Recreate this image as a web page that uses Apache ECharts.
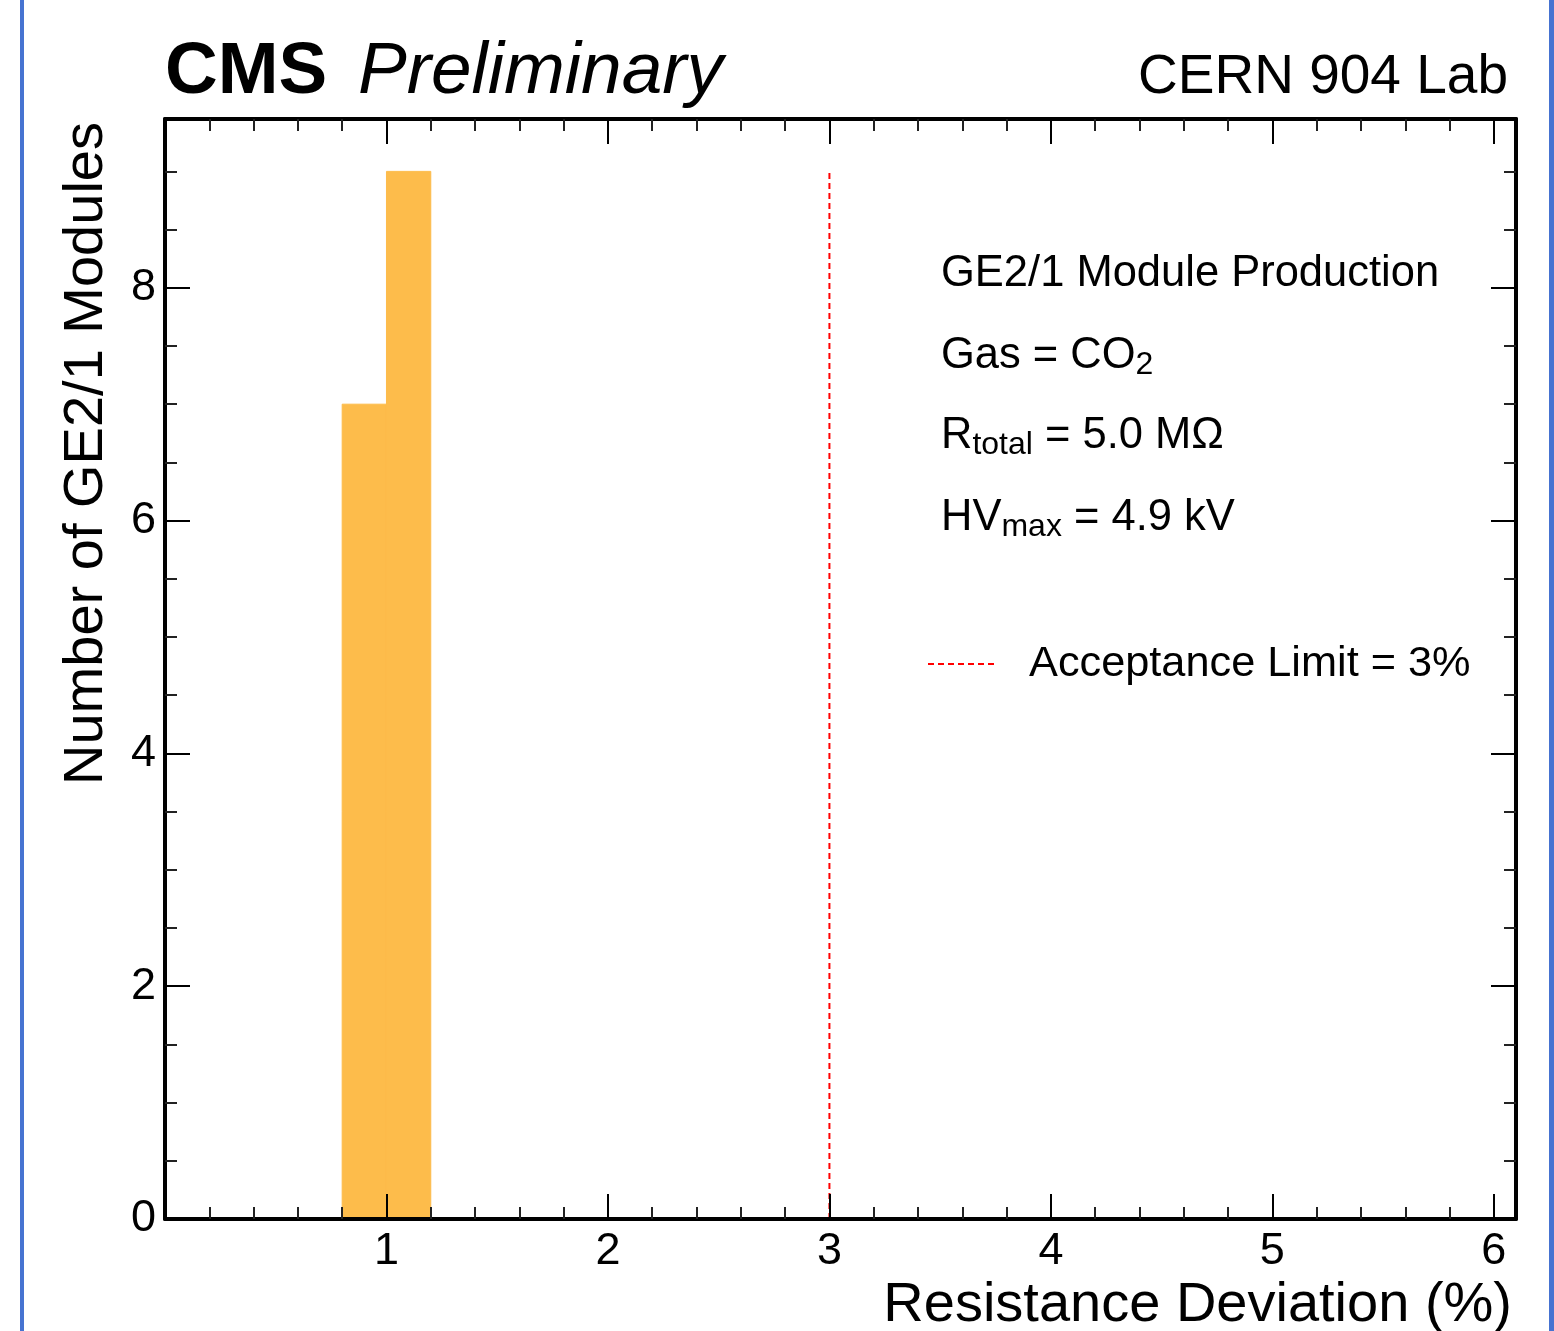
<!DOCTYPE html>
<html><head><meta charset="utf-8">
<script src="https://cdn.jsdelivr.net/npm/echarts@6/dist/echarts.min.js"></script>
<style>html,body{margin:0;padding:0;background:#fff}#c{width:1554px;height:1331px}</style>
</head><body><div id="c"></div>
<script>
// ---- data ----
const binLow = [0.8, 1.0];
const binHigh = [1.0, 1.2];
const counts = [7, 9];
const limitX = [3, 3];
const limitY = [0, 9];
const xMin = 0, xMax = 6.1, xStep = 1;
const yMin = 0, yMax = 9.45, yStep = 2;
const xTickLabels = ['1', '2', '3', '4', '5', '6'];
const yTickLabels = ['0', '2', '4', '6', '8'];
const seriesName = 'Acceptance Limit = 3%';
const xTitle = 'Resistance Deviation (%)';
const yTitle = 'Number of GE2/1 Modules';

const FONT = "'Liberation Sans', Arial, Helvetica, sans-serif";
const histData = binLow.map((lo, i) => [lo, binHigh[i], counts[i]]);
const limitData = limitX.map((x, i) => [x, limitY[i]]);

const tickCommon = (len) => ({show: true, inside: true, length: len, lineStyle: {color: '#000', width: 2}});
const minorCommon = (n) => ({show: true, splitNumber: n, length: 12, lineStyle: {color: '#222', width: 2}});
const lineCommon = {show: true, onZero: false, lineStyle: {color: '#000', width: 4}};
const fmtFrom = (list) => (v) => {
  const s = String(Math.round(v));
  return (Math.abs(v - Math.round(v)) < 1e-9 && list.indexOf(s) >= 0) ? s : '';
};

const chart = echarts.init(document.getElementById('c'), null, {renderer: 'canvas'});
chart.setOption({
  animation: false,
  backgroundColor: '#fff',
  grid: {left: 165, top: 119, right: 38, bottom: 112, containLabel: false, outerBoundsMode: 'none'},
  xAxis: [
    {type: 'value', position: 'bottom', min: xMin, max: xMax, interval: xStep, z: 10,
     axisLine: lineCommon, axisTick: tickCommon(25), minorTick: minorCommon(5),
     splitLine: {show: false}, minorSplitLine: {show: false},
     axisLabel: {show: true, margin: 10, fontSize: 45, color: '#000', fontFamily: FONT, formatter: fmtFrom(xTickLabels)}},
    {type: 'value', position: 'top', min: xMin, max: xMax, interval: xStep, z: 10,
     axisLine: lineCommon, axisTick: tickCommon(25), minorTick: minorCommon(5),
     splitLine: {show: false}, axisLabel: {show: false}}
  ],
  yAxis: [
    {type: 'value', position: 'left', min: yMin, max: yMax, interval: yStep, z: 10,
     axisLine: lineCommon, axisTick: tickCommon(25), minorTick: minorCommon(4),
     splitLine: {show: false}, minorSplitLine: {show: false},
     axisLabel: {show: true, margin: 9, fontSize: 45, color: '#000', fontFamily: FONT, formatter: fmtFrom(yTickLabels)}},
    {type: 'value', position: 'right', min: yMin, max: yMax, interval: yStep, z: 10,
     axisLine: lineCommon, axisTick: tickCommon(25), minorTick: minorCommon(4),
     splitLine: {show: false}, axisLabel: {show: false}}
  ],
  legend: {
    show: true, left: 927, top: 639, padding: 0, orient: 'vertical',
    itemWidth: 66, itemHeight: 14, selectedMode: false,
    itemStyle: {opacity: 0},
    data: [seriesName],
    textStyle: {fontSize: 43.3, lineHeight: 50, color: '#000', fontFamily: FONT, padding: [0, 0, 0, 30]}
  },
  series: [
    {
      type: 'custom', name: 'hist', xAxisIndex: 0, yAxisIndex: 0, z: 2,
      data: histData,
      encode: {x: [0, 1], y: 2},
      renderItem: function (params, api) {
        const p0 = api.coord([api.value(0), api.value(2)]);
        const p1 = api.coord([api.value(1), 0]);
        return {type: 'rect', shape: {x: p0[0], y: p0[1], width: p1[0] - p0[0], height: p1[1] - p0[1]},
                style: {fill: '#FDBC4B', stroke: '#FDBC4B', lineWidth: 1}};
      }
    },
    {
      type: 'line', name: seriesName, xAxisIndex: 0, yAxisIndex: 0, z: 3,
      data: limitData, symbol: 'none', showSymbol: false,
      lineStyle: {color: '#FF0000', width: 2, type: [6, 4]},
      itemStyle: {color: '#FF0000'}
    }
  ],
  graphic: [
    {type: 'rect', shape: {x: 20, y: 0, width: 4, height: 1331}, style: {fill: '#4673D1'}},
    {type: 'rect', shape: {x: 1549, y: 0, width: 5, height: 1331}, style: {fill: '#4673D1'}},
    {type: 'text', x: 165, y: 36, style: {text: 'CMS', fontSize: 73, fontWeight: 'bold', fontFamily: FONT, fill: '#000', verticalAlign: 'top', lineHeight: 73}},
    {type: 'text', x: 358, y: 36, style: {text: 'Preliminary', fontSize: 73, fontStyle: 'italic', fontFamily: FONT, fill: '#000', verticalAlign: 'top', lineHeight: 73}},
    {type: 'text', x: 1508, y: 50, style: {text: 'CERN 904 Lab', fontSize: 55, fontFamily: FONT, fill: '#000', align: 'right', verticalAlign: 'top', lineHeight: 55}},
    {type: 'text', x: 1512, y: 1278, style: {text: xTitle, fontSize: 56, fontFamily: FONT, fill: '#000', align: 'right', verticalAlign: 'top', lineHeight: 56}},
    {type: 'text', x: 87, y: 122, rotation: Math.PI / 2, style: {text: yTitle, fontSize: 56, fontFamily: FONT, fill: '#000', align: 'right', verticalAlign: 'middle', lineHeight: 56}},
    {type: 'text', x: 941, y: 249, style: {text: 'GE2/1 Module Production', fontSize: 43.5, fontFamily: FONT, fill: '#000', verticalAlign: 'top', lineHeight: 50}},
    {type: 'text', x: 941, y: 331, style: {text: 'Gas = CO{s|2}', fontSize: 43.5, fontFamily: FONT, fill: '#000', verticalAlign: 'top', lineHeight: 50,
      rich: {s: {fontSize: 32, lineHeight: 28, verticalAlign: 'bottom', fontFamily: FONT, fill: '#000'}}}},
    {type: 'text', x: 941, y: 411, style: {text: 'R{s|total} = 5.0 MΩ', fontSize: 43.5, fontFamily: FONT, fill: '#000', verticalAlign: 'top', lineHeight: 50,
      rich: {s: {fontSize: 32, lineHeight: 28, verticalAlign: 'bottom', fontFamily: FONT, fill: '#000'}}}},
    {type: 'text', x: 941, y: 493, style: {text: 'HV{s|max} = 4.9 kV', fontSize: 43.5, fontFamily: FONT, fill: '#000', verticalAlign: 'top', lineHeight: 50,
      rich: {s: {fontSize: 32, lineHeight: 28, verticalAlign: 'bottom', fontFamily: FONT, fill: '#000'}}}}
  ]
});
</script></body></html>
